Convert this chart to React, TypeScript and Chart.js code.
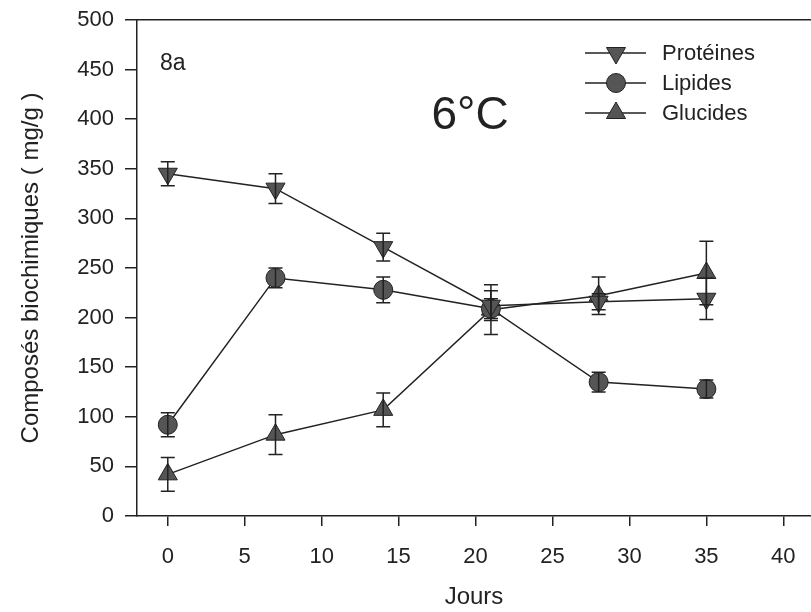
import React, { useEffect, useRef } from "react";
import { Chart, registerables } from "chart.js";

Chart.register(...registerables);

const days = [0, 7, 14, 21, 28, 35];
const proteines = [345, 330, 271, 212, 216, 219];
const proteinesErr = [12, 15, 14, 15, 8, 21];
const lipides = [92, 240, 228, 209, 135, 128];
const lipidesErr = [12, 10, 13, 10, 10, 9];
const glucides = [42, 82, 107, 208, 222, 245];
const glucidesErr = [17, 20, 17, 25, 19, 32];
const xTicks = [0, 5, 10, 15, 20, 25, 30, 35, 40];
const seriesNames = ["Protéines", "Lipides", "Glucides"];

const FONT = "'Liberation Sans', Arial, sans-serif";
const INK = "#222";
const FILL = "#555";

const errors = [proteinesErr, lipidesErr, glucidesErr];

function drawMarker(ctx: CanvasRenderingContext2D, kind: string, x: number, y: number) {
  ctx.save();
  ctx.fillStyle = FILL;
  ctx.strokeStyle = INK;
  ctx.lineWidth = 1;
  ctx.beginPath();
  if (kind === "circle") {
    ctx.arc(x, y, 9.5, 0, Math.PI * 2);
  } else {
    const r = 11;
    const s = kind === "down" ? -1 : 1;
    ctx.moveTo(x, y - s * r);
    ctx.lineTo(x + r * Math.sin(Math.PI / 3), y + s * r * 0.5);
    ctx.lineTo(x - r * Math.sin(Math.PI / 3), y + s * r * 0.5);
    ctx.closePath();
  }
  ctx.fill();
  ctx.stroke();
  ctx.restore();
}

const errorBarPlugin = {
  id: "errorBars",
  afterDatasetsDraw(chart: any) {
    const ctx = chart.ctx;
    const xs = chart.scales.x;
    const ys = chart.scales.y;
    ctx.save();
    ctx.strokeStyle = INK;
    ctx.lineWidth = 1.5;
    chart.data.datasets.forEach((ds: any, i: number) => {
      const err = errors[i];
      ds.data.forEach((p: any, j: number) => {
        const x = xs.getPixelForValue(p.x);
        const yTop = ys.getPixelForValue(p.y + err[j]);
        const yBot = ys.getPixelForValue(p.y - err[j]);
        ctx.beginPath();
        ctx.moveTo(x, yTop);
        ctx.lineTo(x, yBot);
        ctx.moveTo(x - 7, yTop);
        ctx.lineTo(x + 7, yTop);
        ctx.moveTo(x - 7, yBot);
        ctx.lineTo(x + 7, yBot);
        ctx.stroke();
      });
    });
    ctx.restore();
  },
};

const annotationPlugin = {
  id: "annotations",
  afterDraw(chart: any) {
    const ctx = chart.ctx;
    ctx.save();
    ctx.fillStyle = INK;
    ctx.textBaseline = "middle";
    ctx.textAlign = "left";
    ctx.font = `23px ${FONT}`;
    ctx.fillText("8a", 160, 64);
    ctx.font = `46px ${FONT}`;
    ctx.textAlign = "center";
    ctx.fillText("6°C", 470, 116);
    // legend
    const kinds = ["down", "circle", "up"];
    const rows = [53, 83, 113];
    ctx.font = `22px ${FONT}`;
    ctx.textAlign = "left";
    seriesNames.forEach((name, i) => {
      const y = rows[i];
      ctx.strokeStyle = INK;
      ctx.lineWidth = 1.5;
      ctx.beginPath();
      ctx.moveTo(585, y);
      ctx.lineTo(646, y);
      ctx.stroke();
      drawMarker(ctx, kinds[i], 616, y);
      ctx.fillStyle = INK;
      ctx.fillText(name, 662, y + 1);
    });
    ctx.restore();
  },
};

function toPoints(vals: number[]) {
  return days.map((d, i) => ({ x: d, y: vals[i] }));
}

export default function App() {
  const ref = useRef<HTMLCanvasElement | null>(null);
  useEffect(() => {
    if (!ref.current) return;
    const common = {
      borderColor: INK,
      borderWidth: 1.5,
      backgroundColor: FILL,
      pointBorderColor: INK,
      pointBorderWidth: 1,
      pointBackgroundColor: FILL,
      fill: false,
      tension: 0,
    };
    const chart = new Chart(ref.current, {
      type: "line",
      data: {
        datasets: [
          { ...common, label: seriesNames[0], data: toPoints(proteines), pointStyle: "triangle", pointRotation: 180, pointRadius: 11 },
          { ...common, label: seriesNames[1], data: toPoints(lipides), pointStyle: "circle", pointRadius: 9.5 },
          { ...common, label: seriesNames[2], data: toPoints(glucides), pointStyle: "triangle", pointRadius: 11 },
        ],
      },
      options: {
        animation: false,
        responsive: false,
        maintainAspectRatio: false,
        layout: { padding: 0, autoPadding: false },
        plugins: { legend: { display: false }, tooltip: { enabled: false } },
        scales: {
          x: {
            type: "linear",
            position: "bottom",
            min: -2,
            max: 41.8,
            afterBuildTicks: (s: any) => {
              s.ticks = xTicks.map((v) => ({ value: v }));
            },
            afterFit: (s: any) => {
              s.height = 96;
              s.paddingLeft = 0;
              s.paddingRight = 0;
            },
            grid: { display: true, drawOnChartArea: false, drawTicks: true, tickLength: 10, color: INK, lineWidth: 1.5 },
            border: { display: true, color: INK, width: 1.5 },
            ticks: { color: INK, font: { family: FONT, size: 22 }, padding: 18, maxRotation: 0 },
            title: { display: true, text: "Jours", color: INK, font: { family: FONT, size: 24 }, padding: { top: 0, bottom: 0 } },
          },
          x2: {
            type: "linear",
            position: "top",
            display: true,
            afterFit: (s: any) => {
              s.height = 20;
              s.paddingLeft = 0;
              s.paddingRight = 0;
            },
            grid: { display: true, drawOnChartArea: false, drawTicks: false },
            border: { display: true, color: INK, width: 1.5 },
            ticks: { display: false },
          },
          y: {
            type: "linear",
            position: "left",
            min: 0,
            max: 500,
            ticks: { stepSize: 50, color: INK, font: { family: FONT, size: 22 }, padding: 11 },
            afterFit: (s: any) => {
              s.width = 137;
              s.paddingTop = 0;
              s.paddingBottom = 0;
            },
            grid: { display: true, drawOnChartArea: false, drawTicks: true, tickLength: 12, color: INK, lineWidth: 1.5 },
            border: { display: true, color: INK, width: 1.5 },
            title: { display: true, text: "Composés biochimiques ( mg/g )", color: INK, font: { family: FONT, size: 24 }, padding: { top: 17, bottom: 0 } },
          },
        },
      },
      plugins: [errorBarPlugin, annotationPlugin],
    } as any);
    return () => chart.destroy();
  }, []);
  return (
    <div style={{ position: "fixed", left: 0, top: 0, width: 811, height: 612, background: "#fff" }}>
      <canvas ref={ref} width={811} height={612} style={{ display: "block", width: 811, height: 612 }} />
    </div>
  );
}
